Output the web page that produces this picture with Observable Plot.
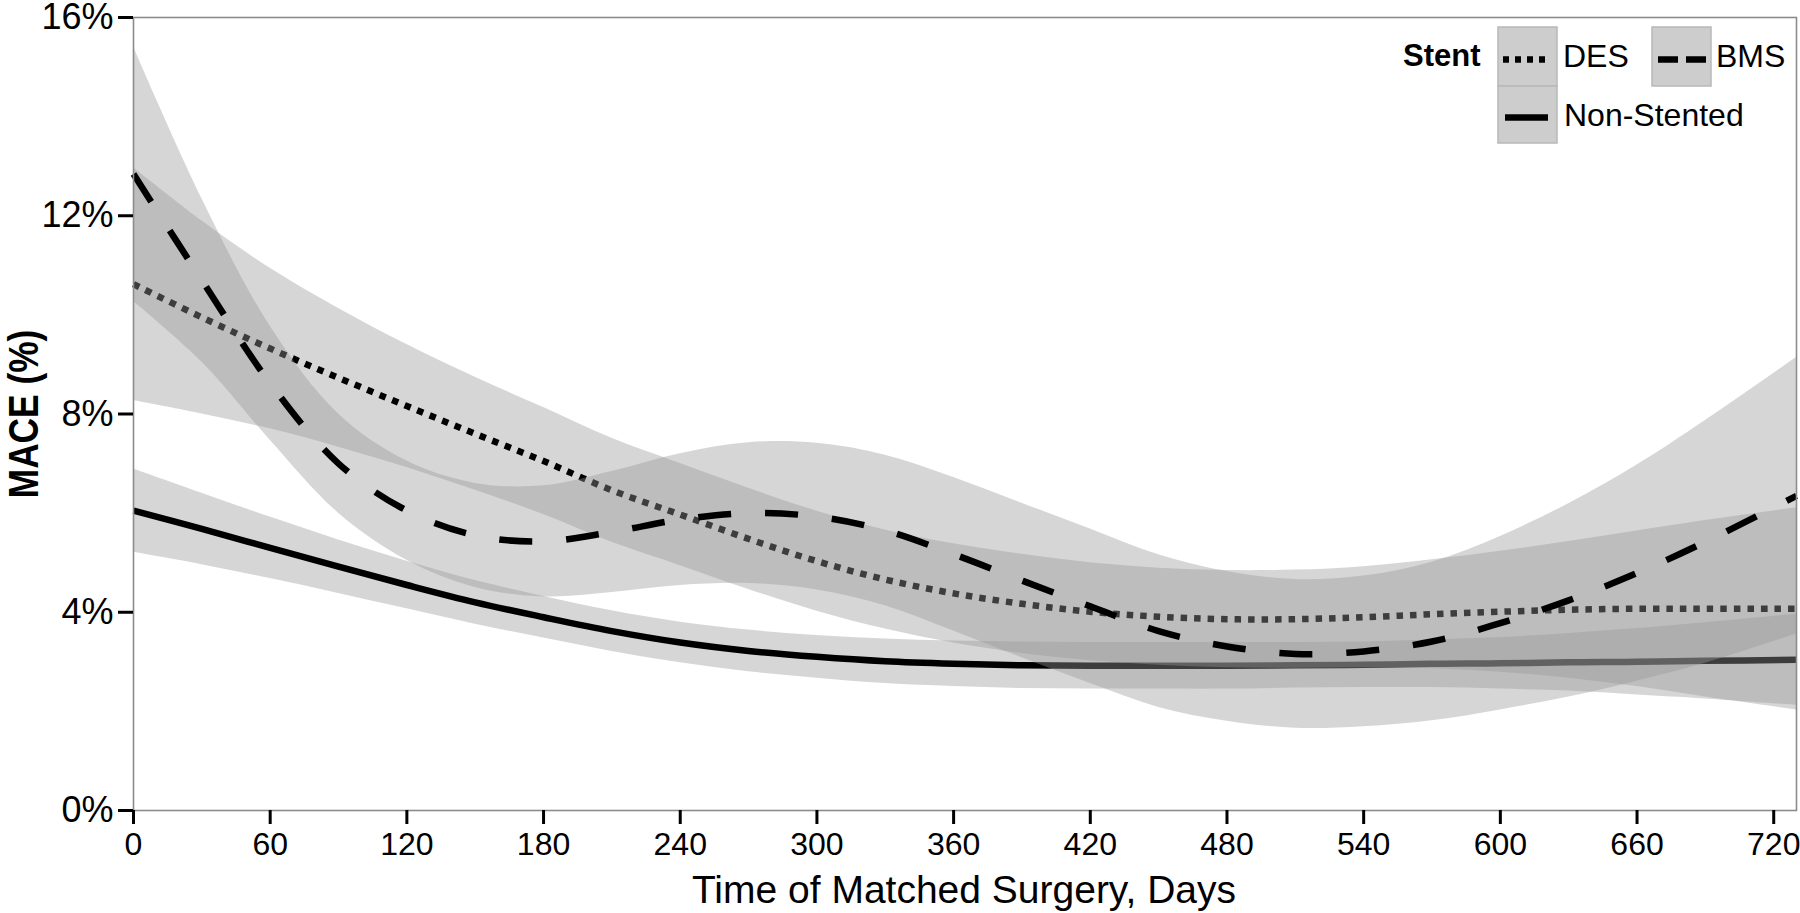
<!DOCTYPE html>
<html><head><meta charset="utf-8">
<script src="https://cdn.jsdelivr.net/npm/d3@7"></script>
<script src="https://cdn.jsdelivr.net/npm/@observablehq/plot@0.6"></script>
<style>body{margin:0;background:#fff} #chart svg{display:block}</style>
</head><body><div id="chart"></div>
<script>
// ---- data ----
const days = [0,30,60,90,120,150,180,210,240,270,300,330,360,390,420,450,480,510,540,570,600,630,660,690,730];

const nsMid = [6.05,5.68,5.30,4.92,4.55,4.20,3.90,3.62,3.39,3.22,3.10,3.01,2.96,2.93,2.92,2.92,2.92,2.93,2.94,2.96,2.97,2.99,3.00,3.02,3.04];
const nsLo  = [5.21,4.96,4.68,4.38,4.07,3.76,3.48,3.21,2.98,2.80,2.67,2.56,2.50,2.46,2.45,2.45,2.45,2.47,2.48,2.48,2.45,2.41,2.33,2.25,2.12];
const nsHi  = [6.89,6.40,5.92,5.46,5.03,4.64,4.32,4.03,3.80,3.64,3.53,3.46,3.42,3.40,3.39,3.39,3.39,3.39,3.40,3.44,3.49,3.57,3.67,3.79,3.96];

const desMid = [10.62,9.95,9.32,8.73,8.16,7.60,7.05,6.46,5.97,5.48,5.03,4.66,4.38,4.17,4.01,3.91,3.86,3.86,3.90,3.96,4.01,4.05,4.07,4.07,4.07];
const desLo  = [8.27,8.00,7.70,7.33,6.92,6.46,5.97,5.41,4.94,4.46,4.02,3.66,3.38,3.17,3.02,2.93,2.88,2.87,2.88,2.86,2.79,2.67,2.50,2.29,2.03];
const desHi  = [12.97,11.90,10.94,10.13,9.40,8.74,8.13,7.51,7.00,6.50,6.04,5.66,5.38,5.17,5.00,4.89,4.84,4.85,4.92,5.06,5.23,5.43,5.64,5.85,6.11];

const bmsMid = [12.84,10.70,8.62,7.00,6.05,5.55,5.43,5.62,5.87,6.00,5.93,5.65,5.17,4.64,4.12,3.62,3.31,3.16,3.21,3.41,3.78,4.24,4.79,5.42,6.35];
const bmsLo  = [10.27,9.05,7.47,6.00,5.05,4.50,4.31,4.40,4.54,4.58,4.45,4.13,3.62,3.08,2.56,2.08,1.80,1.66,1.69,1.81,2.03,2.29,2.61,2.97,3.56];
const bmsHi  = [15.41,12.35,9.77,8.00,7.05,6.60,6.55,6.84,7.20,7.42,7.41,7.17,6.72,6.20,5.68,5.16,4.82,4.66,4.73,5.01,5.53,6.19,6.97,7.87,9.14];

const seriesOrder = ["Non-Stented","DES","BMS"];
const legendTitle = "Stent";
const yTicks = [0,4,8,12,16];
const xTicks = [0,60,120,180,240,300,360,420,480,540,600,660,720];
const xTitle = "Time of Matched Surgery, Days";
const yTitle = "MACE (%)";

// ---- build tables ----
function rows(mid, lo, hi) { return days.map((d, i) => ({day: d, mid: mid[i], lo: lo[i], hi: hi[i]})); }
const tables = {
  "Non-Stented": rows(nsMid, nsLo, nsHi),
  "DES": rows(desMid, desLo, desHi),
  "BMS": rows(bmsMid, bmsLo, bmsHi)
};
const lineStyle = {
  "Non-Stented": {strokeDasharray: null, strokeLinecap: "butt"},
  "DES": {strokeDasharray: "6.5,7", strokeLinecap: "butt"},
  "BMS": {strokeDasharray: "33,34", strokeLinecap: "butt"}
};

const marks = [];
for (const s of seriesOrder) {
  marks.push(Plot.areaY(tables[s], {x: "day", y1: "lo", y2: "hi", fill: "#999999", fillOpacity: 0.4, curve: "catmull-rom"}));
  marks.push(Plot.lineY(tables[s], {x: "day", y: "mid", stroke: "#000", strokeWidth: 6.5, curve: "catmull-rom", ...lineStyle[s]}));
}
marks.push(Plot.frame({stroke: "#8c8c8c", strokeWidth: 1.6}));
marks.push(Plot.axisY({ticks: yTicks, tickFormat: d => d + "%", tickSize: 15, tickPadding: 5, fontSize: 36, strokeWidth: 3, label: null}));
marks.push(Plot.axisX({ticks: xTicks, tickFormat: d => String(d), tickSize: 14, tickPadding: 8, fontSize: 32, strokeWidth: 3, label: null}));

const chart = Plot.plot({
  width: 1800, height: 913,
  marginLeft: 133, marginRight: 4, marginTop: 17, marginBottom: 103,
  x: {domain: [0, 730]},
  y: {domain: [0, 16]},
  style: {fontFamily: "'Liberation Sans', Arial, Helvetica, sans-serif", color: "#000", background: "#fff"},
  marks
});
document.getElementById("chart").appendChild(chart);

// ---- titles and legend ----
const svg = d3.select(chart);
const ff = "'Liberation Sans', Arial, Helvetica, sans-serif";
svg.append("text").attr("x", 964).attr("y", 903).attr("text-anchor", "middle")
  .attr("font-family", ff).attr("font-size", 39).attr("fill", "#000").text(xTitle);
svg.append("text").attr("transform", "translate(38,414) rotate(-90) scale(0.84,1)")
  .attr("text-anchor", "middle").attr("font-family", ff).attr("font-weight", "bold")
  .attr("font-size", 42).attr("fill", "#000").text(yTitle);

const lg = svg.append("g").attr("font-family", ff).attr("fill", "#000").attr("text-anchor", "start");
lg.append("text").attr("x", 1403).attr("y", 66).attr("text-anchor", "start").attr("font-size", 31).attr("font-weight", "bold").text(legendTitle);
const keys = [
  {name: "DES", x: 1498, y: 27, h: 59, tx: 1563, ty: 67},
  {name: "BMS", x: 1652, y: 27, h: 59, tx: 1716, ty: 67},
  {name: "Non-Stented", x: 1498, y: 86, h: 57, tx: 1564, ty: 126}
];
for (const k of keys) {
  lg.append("rect").attr("x", k.x).attr("y", k.y).attr("width", 59).attr("height", k.h)
    .attr("fill", "#cdcdcd").attr("stroke", "#b8b8b8").attr("stroke-width", 1.5);
  const cy = k.y + k.h / 2 + 3;
  const ln = lg.append("line").attr("y1", cy).attr("y2", cy).attr("stroke", "#000").attr("stroke-width", 6.5);
  if (k.name === "DES") ln.attr("x1", k.x + 5).attr("x2", k.x + 52).attr("stroke-dasharray", "6,6");
  else if (k.name === "BMS") ln.attr("x1", k.x + 6).attr("x2", k.x + 54).attr("stroke-dasharray", "20,8");
  else ln.attr("x1", k.x + 7).attr("x2", k.x + 50);
  lg.append("text").attr("x", k.tx).attr("y", k.ty).attr("text-anchor", "start").attr("font-size", 32).text(k.name);
}
</script>
</body></html>
